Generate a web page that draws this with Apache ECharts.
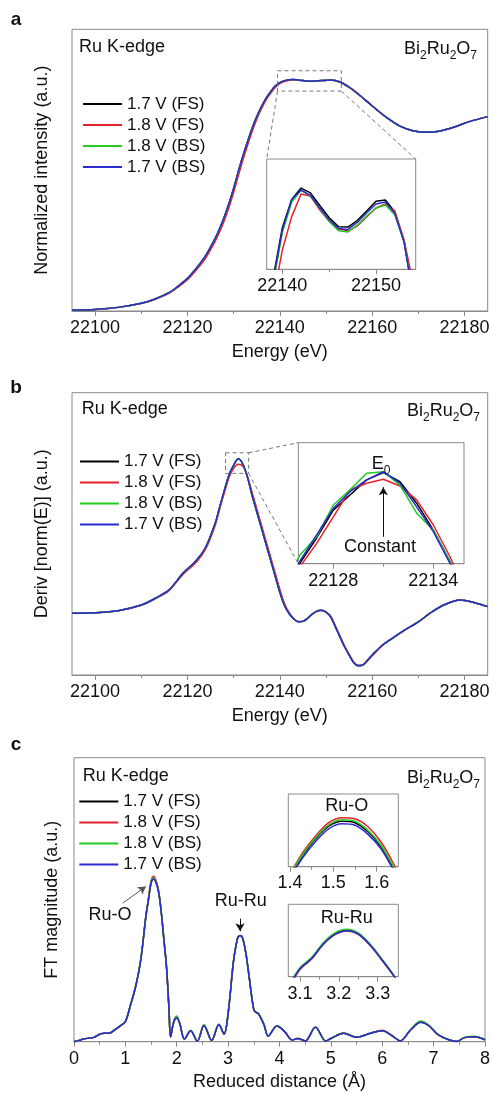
<!DOCTYPE html>
<html><head><meta charset="utf-8">
<script src="https://cdn.jsdelivr.net/npm/echarts@6/dist/echarts.min.js"></script>
<style>html,body{margin:0;padding:0;background:#fff;}#c{width:493px;height:1093px;}</style>
</head><body><div id="c"></div>
<script>
// ---------- legend / series names ----------
const seriesNames = ['1.7 V (FS)', '1.8 V (FS)', '1.8 V (BS)', '1.7 V (BS)'];
const seriesColors = ['#000000', '#e8202a', '#22cc22', '#2b2bd1'];

// ---------- panel a: XANES ----------
const aTicks = [22100, 22120, 22140, 22160, 22180];
const aMinorTicks = [22110, 22130, 22150, 22170];
const aE = [22095,22100,22105,22110,22113,22116,22118,22120,22122,22124,
  22126,22127,22128,22129,22130,22131,22132,22133,22134,22135,22136,22137,22138,22139,22140,22141,
  22143,22145,22147,22149,22151,22153,22155,22157,
  22160,22163,22166,22169,22172,22175,22178,22181,22185];
const aMu = [0.005,0.008,0.018,0.038,0.06,0.091,0.124,0.162,0.215,0.278,
  0.361,0.411,0.469,0.535,0.61,0.692,0.77,0.841,0.908,0.966,1.015,1.057,1.09,1.118,1.135,1.145,
  1.15,1.145,1.142,1.145,1.148,1.138,1.112,1.077,
  1.019,0.963,0.919,0.895,0.888,0.896,0.916,0.941,0.966];
const aMuRed = [0.005,0.008,0.018,0.037,0.058,0.088,0.119,0.155,0.206,0.266,
  0.347,0.395,0.451,0.516,0.59,0.672,0.75,0.823,0.892,0.953,1.004,1.048,1.082,1.111,1.13,1.141,
  1.149,1.145,1.142,1.145,1.148,1.139,1.114,1.079,
  1.02,0.963,0.919,0.895,0.888,0.896,0.916,0.941,0.966];
// inset a
const aInTicks = [22140, 22150];
const aInMinor = [22145];
const aInE = [22139,22140,22141,22142,22143,22144,22145,22146,22147,22148,22149,22150,22151,22152,22153,22154];
const aInBlack = [1.092,1.134,1.157,1.1663,1.1623,1.152,1.142,1.1348,1.1345,1.1398,1.1475,1.1555,1.1565,1.147,1.123,1.078];
const aInRed   = [1.075,1.1157,1.143,1.1614,1.1598,1.1484,1.1394,1.1329,1.1312,1.1353,1.1427,1.15,1.1533,1.1476,1.1239,1.087];
const aInGreen = [1.088,1.13,1.1549,1.1645,1.16,1.1495,1.139,1.1315,1.1305,1.136,1.1435,1.15,1.1525,1.1445,1.1225,1.078];
const aInBlue  = [1.09,1.132,1.1568,1.1647,1.1602,1.15,1.1402,1.1333,1.1325,1.1382,1.1459,1.1533,1.1549,1.1457,1.122,1.0766];

// ---------- panel b: derivative ----------
const bE = [22095,22100,22105,22110,22113,22116,22119,22122,22124,22126,
  22127,22128,22129,22130,22131,22132,22133,22134,22135,22136,
  22137,22138,22139,22140,22141,22142,22143,22144,22145,22146,
  22147,22148,22149,22150,22151,22152,22153,22154,22155,22156,
  22157,22158,22159,22160,22162,22164,22167,22170,22173,22176,
  22179,22182,22185];
const bD = [0.0006,0.0009,0.0019,0.0047,0.008,0.0122,0.0204,0.027,0.0336,0.0452,
  0.0535,0.0617,0.0692,0.0741,0.0772,0.0745,0.068,0.059,0.051,0.043,
  0.035,0.027,0.019,0.011,0.0045,0.0005,-0.0022,-0.0036,-0.0034,-0.0019,
  0.0002,0.0017,0.0021,0.0012,-0.0011,-0.006,-0.011,-0.016,-0.0201,-0.0239,
  -0.0254,-0.025,-0.0226,-0.0201,-0.0156,-0.0123,-0.0077,-0.0036,0.0014,0.0052,
  0.0072,0.006,0.0039];
const bDRed = [0.0006,0.0009,0.0019,0.0046,0.0078,0.0118,0.0198,0.0262,0.0328,0.0442,
  0.0525,0.0605,0.068,0.0725,0.0745,0.0735,0.0685,0.0605,0.0525,0.0445,
  0.0365,0.0285,0.0205,0.0125,0.0055,0.001,-0.002,-0.0035,-0.0034,-0.002,
  0,0.0015,0.002,0.0012,-0.0008,-0.0055,-0.0105,-0.0155,-0.0197,-0.0236,
  -0.0252,-0.0251,-0.023,-0.0205,-0.0158,-0.0124,-0.0078,-0.0036,0.0014,0.0052,
  0.0072,0.006,0.0039];
// inset b
const bInTicks = [22128, 22134];
const bInMinor = [22131];
const bInE = [22125,22126,22127,22128,22129,22130,22131,22132,22133,22134,22135,22136];
const bInBlack = [0.029,0.0402,0.0485,0.0577,0.0627,0.0677,0.0701,0.0671,0.06,0.0511,0.0407,0.028];
const bInRed   = [0.028,0.039,0.0467,0.0555,0.0644,0.0666,0.0679,0.0657,0.0611,0.0528,0.0423,0.03];
const bInGreen = [0.031,0.0429,0.0489,0.0594,0.0644,0.0699,0.0704,0.066,0.0567,0.0511,0.0407,0.0287];
const bInBlue  = [0.0297,0.0409,0.0495,0.0583,0.0638,0.0677,0.0704,0.0666,0.0588,0.0506,0.0401,0.028];

// ---------- panel c: FT ----------
const cR = [0,0.1,0.2,0.3,0.4,0.5,0.6,0.7,0.8,0.9,1.0,
  1.1,1.2,1.3,1.4,1.45,1.5,1.55,1.6,1.65,1.7,1.75,1.8,1.85,1.88,
  1.94,2.0,2.06,2.15,2.27,2.4,2.53,2.68,2.82,2.92,
  3.0,3.1,3.15,3.2,3.25,3.3,3.35,3.4,3.5,3.55,
  3.6,3.7,3.78,3.95,4.1,4.25,4.35,4.5,4.7,4.9,
  5.0,5.25,5.5,5.75,6.0,6.2,6.35,6.55,6.75,6.9,
  7.1,7.3,7.45,7.6,7.8,8.0];
const cFT = [0,0.008,0.018,0.022,0.028,0.046,0.052,0.054,0.075,0.098,0.124,
  0.227,0.34,0.505,0.772,0.875,0.978,1.003,0.978,0.917,0.793,0.628,0.463,0.196,0.03,
  0.12,0.148,0.11,0.016,0.068,0.004,0.1,0.008,0.105,0.047,
  0.175,0.484,0.587,0.649,0.653,0.618,0.536,0.422,0.196,0.179,
  0.169,0.103,0.035,0.097,0.062,0.01,0.02,0.005,0.089,0.005,
  0.02,0.052,0.027,0.05,0.068,0.035,0.005,0.072,0.12,0.1,
  0.04,0.012,0.002,0.025,0.031,0.012];
const cFTRed = [0,0.008,0.018,0.022,0.028,0.046,0.052,0.054,0.075,0.098,0.124,
  0.227,0.34,0.508,0.78,0.885,0.99,1.02,0.99,0.925,0.797,0.63,0.463,0.196,0.03,
  0.12,0.15,0.11,0.016,0.068,0.004,0.102,0.008,0.108,0.047,
  0.175,0.484,0.587,0.649,0.653,0.618,0.536,0.422,0.196,0.179,
  0.169,0.103,0.035,0.097,0.062,0.01,0.02,0.005,0.089,0.005,
  0.02,0.052,0.027,0.05,0.07,0.035,0.005,0.072,0.12,0.1,
  0.04,0.012,0.002,0.025,0.031,0.012];
const cFTGreen = [0,0.008,0.018,0.022,0.028,0.046,0.052,0.054,0.075,0.098,0.124,
  0.227,0.34,0.506,0.776,0.88,0.984,1.01,0.984,0.92,0.795,0.628,0.463,0.196,0.03,
  0.125,0.158,0.113,0.016,0.07,0.004,0.104,0.008,0.107,0.047,
  0.175,0.484,0.588,0.651,0.655,0.619,0.536,0.422,0.198,0.181,
  0.17,0.105,0.035,0.099,0.063,0.01,0.02,0.005,0.09,0.005,
  0.02,0.053,0.027,0.051,0.068,0.035,0.005,0.074,0.127,0.104,
  0.041,0.012,0.002,0.027,0.034,0.012];
// inset Ru-O
const cOTicks = [1.4, 1.5, 1.6];
const cOMinor = [1.45, 1.55];
const cOR = [1.40,1.43,1.46,1.49,1.52,1.55,1.58,1.61,1.64,1.67];
const cOBlack = [0.775,0.832,0.878,0.912,0.925,0.921,0.896,0.855,0.794,0.725];
const cORed   = [0.78,0.84,0.886,0.922,0.935,0.932,0.91,0.868,0.806,0.73];
const cOGreen = [0.777,0.835,0.881,0.916,0.929,0.925,0.9,0.859,0.797,0.727];
const cOBlue  = [0.77,0.826,0.871,0.905,0.918,0.914,0.889,0.849,0.788,0.72];
// inset Ru-Ru
const cRTicks = [3.1, 3.2, 3.3];
const cRMinor = [3.15, 3.25];
const cRR = [3.07,3.10,3.13,3.16,3.19,3.22,3.25,3.28,3.31,3.34,3.37];
const cRBlack = [0.47,0.522,0.551,0.591,0.618,0.628,0.619,0.589,0.548,0.505,0.455];
const cRRed   = [0.468,0.52,0.549,0.589,0.616,0.626,0.617,0.587,0.547,0.504,0.454];
const cRGreen = [0.472,0.525,0.553,0.594,0.621,0.631,0.621,0.59,0.55,0.506,0.456];
const cRBlue  = [0.47,0.522,0.55,0.59,0.617,0.627,0.618,0.588,0.548,0.505,0.455];

// ---------- layout ----------
const FONT = '"Liberation Sans", Arial, Helvetica, sans-serif';
const GRAY = '#8a8a8a';
const TXT = '#111';
const G = [
  {left:72, top:29.3, width:415.7, height:281.7},   // a
  {left:266.7, top:159, width:149, height:110.3},   // a inset
  {left:72, top:392.7, width:415.7, height:282.3},  // b
  {left:298.3, top:442.7, width:165.7, height:121}, // b inset
  {left:74, top:757.7, width:415, height:284},      // c
  {left:288.3, top:794, width:110, height:72.7},    // Ru-O inset
  {left:288.3, top:904.3, width:110, height:72.4}   // Ru-Ru inset
];
const grids = G.map(g => Object.assign({show:true, borderColor:GRAY, borderWidth:1, backgroundColor:'#fff', containLabel:false}, g));
const plain = v => String(Math.round(v * 1000) / 1000);

function xMajor(gi, min, max, ticks, name, nameGap, margin) {
  return {type:'value', gridIndex:gi, position:'bottom', min, max,
    axisLine:{show:true, onZero:false, lineStyle:{color:GRAY, width:1}},
    axisTick:{show:true, customValues:ticks, length:5, lineStyle:{color:GRAY}},
    axisLabel:{show:true, customValues:ticks, fontSize:18, color:TXT, fontFamily:FONT, margin:margin||8, formatter:plain},
    splitLine:{show:false},
    name:name||'', nameLocation:'middle', nameGap:nameGap||30,
    nameTextStyle:{fontSize:18, color:TXT, fontFamily:FONT}};
}
function xMinor(gi, min, max, ticks) {
  return {type:'value', gridIndex:gi, position:'bottom', min, max,
    axisLine:{show:false, onZero:false}, axisTick:{show:true, customValues:ticks, length:3, lineStyle:{color:GRAY}},
    axisLabel:{show:false}, splitLine:{show:false}};
}
function yAx(gi, min, max, name, nameGap) {
  return {type:'value', gridIndex:gi, min, max,
    axisLine:{show:false, onZero:false}, axisTick:{show:false}, axisLabel:{show:false}, splitLine:{show:false},
    name:name||'', nameLocation:'middle', nameGap:nameGap||20,
    nameTextStyle:{fontSize:18, color:TXT, fontFamily:FONT}};
}

const xAxes = [
  xMajor(0, 22095, 22185, aTicks, 'Energy (eV)', 32),      // 0
  xMinor(0, 22095, 22185, aMinorTicks),                    // 1
  xMajor(1, 22138.33, 22154.24, aInTicks),                 // 2
  xMinor(1, 22138.33, 22154.24, aInMinor),                 // 3
  xMajor(2, 22095, 22185, aTicks, 'Energy (eV)', 32),      // 4
  xMinor(2, 22095, 22185, aMinorTicks),                    // 5
  xMajor(3, 22125.9, 22135.84, bInTicks),                  // 6
  xMinor(3, 22125.9, 22135.84, bInMinor),                  // 7
  Object.assign(xMajor(4, 0, 8, null, 'Reduced distance (\u00C5)', 31), {   // 8
    interval:1,
    axisTick:{show:true, length:5, lineStyle:{color:GRAY}},
    axisLabel:{show:true, fontSize:18, color:TXT, fontFamily:FONT, margin:8, formatter:plain},
    minorTick:{show:true, splitNumber:2, length:3, lineStyle:{color:GRAY}}}),
  xMajor(5, 1.396, 1.65, cOTicks, '', 0, 7),               // 9
  xMinor(5, 1.396, 1.65, cOMinor),                         // 10
  xMajor(6, 3.07, 3.353, cRTicks),                         // 11
  xMinor(6, 3.07, 3.353, cRMinor)                          // 12
];
const yAxes = [
  yAx(0, 0, 1.4, 'Normalized intensity (a.u.)', 21),
  yAx(1, 1.10, 1.19),
  yAx(2, -0.03, 0.11, 'Deriv [norm(E)] (a.u.)', 21),
  yAx(3, 0.04, 0.08),
  yAx(4, 0, 1.75, 'FT magnitude (a.u.)', 13),
  yAx(5, 0.8, 1.0),
  yAx(6, 0.5, 0.7)
];

function mk(i, xi, yi, xs, ys, smooth, extra) {
  return Object.assign({
    type:'line', name:seriesNames[i], xAxisIndex:xi, yAxisIndex:yi,
    data: xs.map((x, k) => [x, ys[k]]),
    showSymbol:false, symbol:'none', smooth:smooth, clip:true, silent:true,
    lineStyle:{color:seriesColors[i], width:1.5}, itemStyle:{color:seriesColors[i]},
    emphasis:{disabled:true}
  }, extra || {});
}

const series = [
  // panel a
  mk(0, 0, 0, aE, aMu, 0.3), mk(1, 0, 0, aE, aMuRed, 0.3), mk(2, 0, 0, aE, aMu, 0.3), mk(3, 0, 0, aE, aMu, 0.3),
  mk(0, 2, 1, aInE, aInBlack, false), mk(1, 2, 1, aInE, aInRed, false), mk(2, 2, 1, aInE, aInGreen, false), mk(3, 2, 1, aInE, aInBlue, false),
  // panel b
  mk(0, 4, 2, bE, bD, 0.3), mk(1, 4, 2, bE, bDRed, 0.3), mk(2, 4, 2, bE, bD, 0.3), mk(3, 4, 2, bE, bD, 0.3),
  mk(0, 6, 3, bInE, bInBlack, false), mk(1, 6, 3, bInE, bInRed, false), mk(2, 6, 3, bInE, bInGreen, false),
  mk(3, 6, 3, bInE, bInBlue, false, {
    markLine:{silent:true, symbol:['none','arrow'], symbolSize:[7,8], label:{show:false},
      lineStyle:{color:'#111', width:1, type:'solid'},
      data:[[{coord:[22131, 0.0489]}, {coord:[22131, 0.0653]}]]}
  }),
  // panel c
  mk(0, 8, 4, cR, cFT, 0.35), mk(1, 8, 4, cR, cFTRed, 0.35), mk(2, 8, 4, cR, cFTGreen, 0.35),
  mk(3, 8, 4, cR, cFT, 0.35, {
    markLine:{silent:true, symbol:['none','arrow'], symbolSize:[7,8], label:{show:false},
      lineStyle:{width:1, type:'solid'},
      data:[
        [{coord:[0.95, 0.854], lineStyle:{color:'#555'}}, {coord:[1.40, 0.957]}],
        [{coord:[3.232, 0.758], lineStyle:{color:'#111'}}, {coord:[3.232, 0.681]}]
      ]}
  }),
  mk(0, 9, 5, cOR, cOBlack, 0.3), mk(1, 9, 5, cOR, cORed, 0.3), mk(2, 9, 5, cOR, cOGreen, 0.3), mk(3, 9, 5, cOR, cOBlue, 0.3),
  mk(0, 11, 6, cRR, cRBlack, 0.3), mk(1, 11, 6, cRR, cRRed, 0.3), mk(2, 11, 6, cRR, cRGreen, 0.3), mk(3, 11, 6, cRR, cRBlue, 0.3)
];

function legendAt(left, top) {
  return {show:true, orient:'vertical', left, top, padding:0, itemWidth:39, itemHeight:2, itemGap:4,
    icon:'rect', selectedMode:false, data:seriesNames,
    textStyle:{fontSize:17, lineHeight:17, color:TXT, fontFamily:FONT}};
}

const chart = echarts.init(document.getElementById('c'), null, {renderer:'canvas'});
chart.setOption({
  animation:false,
  textStyle:{fontFamily:FONT},
  color:seriesColors,
  grid:grids, xAxis:xAxes, yAxis:yAxes, series,
  legend:[legendAt(83, 95.5), legendAt(80, 453), legendAt(79.3, 793)]
});

// ---------- annotations ----------
const P = (xi, yi, v) => chart.convertToPixel({xAxisIndex:xi, yAxisIndex:yi}, v);
const dash = {stroke:'#777', lineWidth:1, lineDash:[4,3], fill:null};
function rectFrom(p1, p2) {
  return {type:'rect', shape:{x:Math.min(p1[0],p2[0]), y:Math.min(p1[1],p2[1]), width:Math.abs(p2[0]-p1[0]), height:Math.abs(p2[1]-p1[1])}, style:Object.assign({}, dash, {fill:'rgba(0,0,0,0)'}), z:10};
}
function seg(p1, p2) { return {type:'line', shape:{x1:p1[0], y1:p1[1], x2:p2[0], y2:p2[1]}, style:dash, z:10}; }
// panel a zoom box
const aTL = P(0, 0, [22139.5, 1.194]), aBR = P(0, 0, [22153.3, 1.093]);
// panel b zoom box
const bTL = P(4, 2, [22128.25, 0.0802]), bBR = P(4, 2, [22133.24, 0.07]);

function txt(x, y, text, opts) {
  return {type:'text', x, y, z:20, style:Object.assign({text, fontSize:18, fill:TXT, fontFamily:FONT, align:'left', verticalAlign:'middle'}, opts||{})};
}
const chemRich = {n:{fontSize:18, lineHeight:26, fill:TXT, fontFamily:FONT}, s:{fontSize:12, lineHeight:14, verticalAlign:'bottom', fill:TXT, fontFamily:FONT}};
const chem = '{n|Bi}{s|2}{n|Ru}{s|2}{n|O}{s|7}';

const graphic = [
  rectFrom(aTL, aBR),
  seg([aTL[0], aBR[1]], [G[1].left, G[1].top]),
  seg([aBR[0], aBR[1]], [G[1].left + G[1].width, G[1].top]),
  rectFrom(bTL, bBR),
  seg([bBR[0], bTL[1]], [G[3].left, G[3].top]),
  seg([bBR[0], bBR[1]], [G[3].left, G[3].top + G[3].height]),
  txt(16, 19.5, 'a', {fontWeight:'bold', fontSize:19, align:'center'}),
  txt(16, 388, 'b', {fontWeight:'bold', fontSize:19, align:'center'}),
  txt(16, 745, 'c', {fontWeight:'bold', fontSize:19, align:'center'}),
  txt(79, 46.7, 'Ru K-edge'),
  txt(81.7, 409.3, 'Ru K-edge'),
  txt(82.7, 776, 'Ru K-edge'),
  txt(477, 49, chem, {align:'right', rich:chemRich}),
  txt(480, 411, chem, {align:'right', rich:chemRich}),
  txt(480, 778, chem, {align:'right', rich:chemRich}),
  txt(381, 464, '{n|E}{s|0}', {align:'center', rich:chemRich}),
  txt(380, 546.7, 'Constant', {align:'center'}),
  txt(346.7, 806, 'Ru-O', {align:'center'}),
  txt(346.7, 917.7, 'Ru-Ru', {align:'center'}),
  txt(110, 915, 'Ru-O', {align:'center'}),
  txt(240.7, 901, 'Ru-Ru', {align:'center'})
];
chart.setOption({graphic});
</script>
</body></html>
